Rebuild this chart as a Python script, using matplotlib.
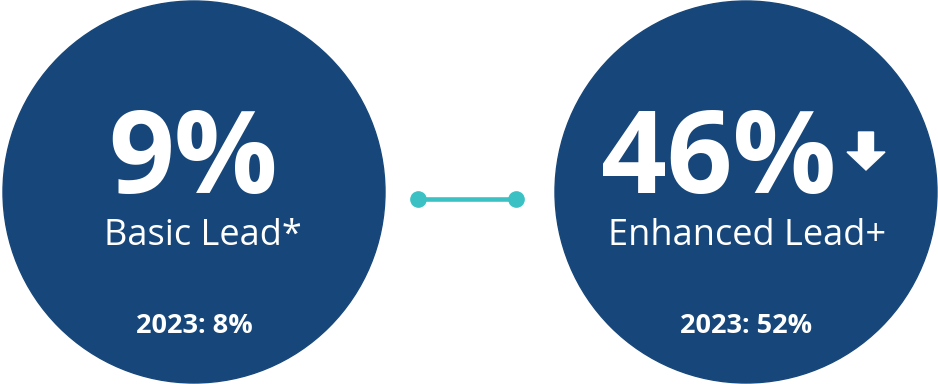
import matplotlib.pyplot as plt
from matplotlib.patches import Circle, FancyArrow

# values shown in each circle
values = ['9%', '46%']
labels = ['Basic Lead*', 'Enhanced Lead+']
prior = ['2023: 8%', '2023: 52%']
trend_down = [False, True]

NAVY = '#17477a'
TEAL = '#3bc1c4'

plt.rcParams['font.family'] = ['Open Sans', 'DejaVu Sans']

fig = plt.figure(figsize=(9.38, 3.84), dpi=100)
ax = fig.add_axes([0, 0, 1, 1])
ax.set_xlim(0, 938)
ax.set_ylim(384, 0)
ax.set_aspect('equal')
ax.axis('off')

centers = [194, 746]
value_x = [193, 719]
label_x = [203, 747]
for i in range(len(values)):
  cx = centers[i]
  ax.add_patch(Circle((cx, 192), 191, color=NAVY, zorder=1))
  ax.text(value_x[i], 193, values[i], color='white', fontsize=83, fontweight='bold',
          ha='center', va='baseline', zorder=3)
  ax.text(label_x[i], 245, labels[i], color='white', fontsize=26,
          ha='center', va='baseline', zorder=3)
  ax.text(cx, 333, prior[i], color='white', fontsize=19.5, fontweight='bold',
          ha='center', va='baseline', zorder=3)
  if trend_down[i]:
    ax.add_patch(FancyArrow(866, 132, 0, 38, width=15, head_width=38, head_length=18,
                            length_includes_head=True, color='white', zorder=3))

# connector between the two circles
ax.plot([418, 516], [199, 199], color=TEAL, lw=3.3, solid_capstyle='butt', zorder=2)
ax.plot([418, 516], [199, 199], 'o', color=TEAL, ms=11, zorder=2)

fig.savefig('out.png', dpi=100)
